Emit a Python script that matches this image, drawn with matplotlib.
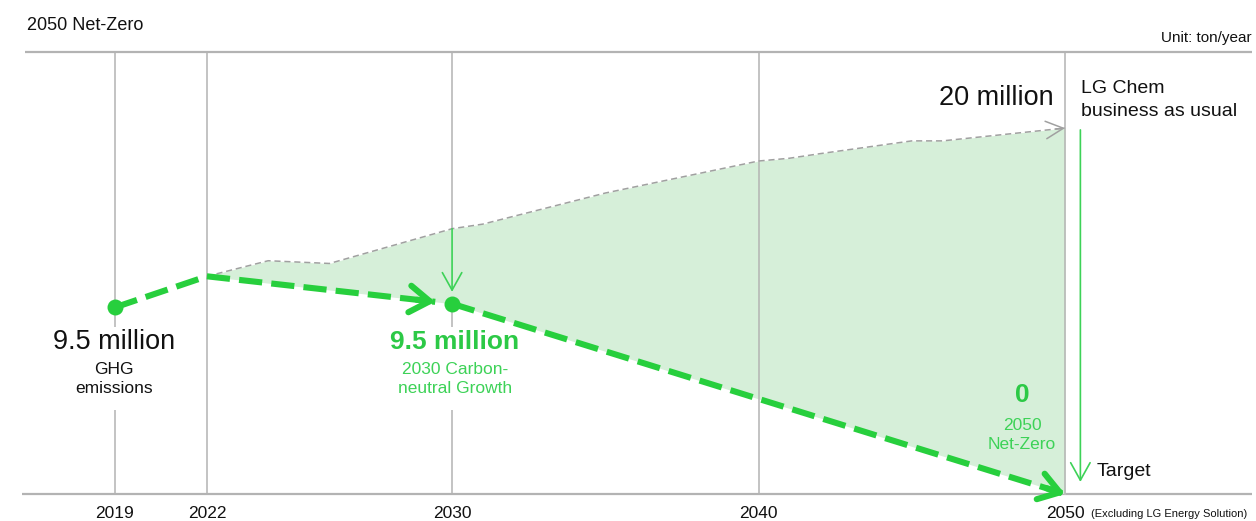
import matplotlib
matplotlib.use("Agg")
import matplotlib.pyplot as plt
import numpy as np

# ---------------- data (million t CO2eq / year, as drawn) ----------------
path_years = [2019, 2022, 2030, 2050]
path_values = [10.2, 11.9, 10.4, 0.0]

bau_years = [2022, 2024, 2026, 2030, 2031, 2035, 2040, 2041, 2042, 2045, 2046, 2050]
bau_values = [11.9, 12.75, 12.6, 14.5, 14.75, 16.45, 18.2, 18.35, 18.6, 19.3, 19.3, 20.0]

tick_years = [2019, 2022, 2030, 2040, 2050]
tick_labels = ["2019", "2022", "2030", "2040", "2050"]

# ---------------- style ----------------
GREEN = "#27cf3d"
GREEN_TXT = "#2cc946"
GREEN_LIGHT = "#3dd257"
FILL = "#d6efd9"
GRAY = "#b3b3b3"
GRAY_DARK = "#a0a0a0"
plt.rcParams["font.family"] = ["Liberation Sans", "DejaVu Sans"]

W, H = 1256, 521
fig = plt.figure(figsize=(W / 100, H / 100), dpi=100)
ax = fig.add_axes([0, 0, 1, 1])
ax.axis("off")
ax.set_xlim(2015.25, 2056.23)
ax.set_ylim(-1.475, 27.0)

TOP = 24.15


def fx(px):
    return px / W


def fy(py):
    return 1 - py / H


def ftext(px, py, s, **kw):
    fig.text(fx(px), fy(py), s, **kw)


# frame lines
ax.hlines(TOP, 2016.07, 2056.1, color=GRAY, lw=1.6, zorder=1)
ax.hlines(0, 2015.97, 2056.1, color=GRAY, lw=1.6, zorder=1)

# vertical year lines (with gaps for labels)
gap_hi, gap_lo = 9.13, 4.59
VZ = 2.5
for yr in tick_years:
    if yr in (2019, 2030):
        top_end = bau_values[bau_years.index(yr)] if yr == 2030 else gap_hi
        ax.vlines(yr, top_end, TOP, color=GRAY, lw=1.1, zorder=VZ)
        if yr == 2030:
            ax.vlines(yr, gap_hi, path_values[path_years.index(yr)], color=GRAY, lw=1.1, zorder=VZ)
        ax.vlines(yr, 0, gap_lo, color=GRAY, lw=1.1, zorder=VZ)
    else:
        ax.vlines(yr, 0, TOP, color=GRAY, lw=1.1, zorder=VZ)

# fill between BAU and pathway
path_on_bau = np.interp(bau_years, path_years, path_values)
ax.fill_between(bau_years, path_on_bau, bau_values, color=FILL, lw=0, zorder=2)

# BAU dashed line + arrow
ax.plot(bau_years, bau_values, color=GRAY_DARK, lw=1.1, ls=(0, (4, 2.5)), zorder=3)
ax.annotate("", xy=(bau_years[-1], bau_values[-1]), xytext=(bau_years[-1] - 0.3, bau_values[-1] - 0.05),
            arrowprops=dict(arrowstyle="->,head_length=0.9,head_width=0.45", color=GRAY_DARK, lw=1.1,
                            shrinkA=0, shrinkB=0, mutation_scale=14), zorder=3)

# pathway dashed line
dash = (0, (3.8, 1.5))
LW = 4.4
# 2019 -> 2022
ax.plot(path_years[0:2], path_values[0:2], color=GREEN, lw=LW, ls=dash, zorder=5)
# 2022 -> just before 2030
stop1 = path_years[2] - 0.55
v_stop1 = np.interp(stop1, path_years, path_values)
ax.plot([path_years[1], stop1], [path_values[1], v_stop1], color=GREEN, lw=LW, ls=dash, zorder=5)
ax.annotate("", xy=(stop1, v_stop1), xytext=(stop1 - 0.6, np.interp(stop1 - 0.6, path_years, path_values)),
            arrowprops=dict(arrowstyle="->,head_length=0.9,head_width=0.6", color=GREEN, lw=LW,
                            shrinkA=0, shrinkB=0, mutation_scale=16), zorder=5)
# 2030 -> 2050
ax.plot(path_years[2:4], path_values[2:4], color=GREEN, lw=LW, ls=dash, zorder=5)
ax.annotate("", xy=(path_years[3], path_values[3]),
            xytext=(path_years[3] - 0.6, np.interp(path_years[3] - 0.6, path_years, path_values)),
            arrowprops=dict(arrowstyle="->,head_length=0.9,head_width=0.6", color=GREEN, lw=LW,
                            shrinkA=0, shrinkB=0, mutation_scale=16), zorder=5)
# dots
ax.plot([path_years[0], path_years[2]], [path_values[0], path_values[2]], "o", color=GREEN,
        ms=11.5, mec="none", zorder=6)

# thin green arrows
ax.annotate("", xy=(2030, 11.05), xytext=(2030, bau_values[bau_years.index(2030)]),
            arrowprops=dict(arrowstyle="->,head_length=0.9,head_width=0.5", color=GREEN_LIGHT, lw=1.2,
                            shrinkA=0, shrinkB=0, mutation_scale=14), zorder=4)
ax.annotate("", xy=(2050.5, 0.66), xytext=(2050.5, 19.9),
            arrowprops=dict(arrowstyle="->,head_length=0.9,head_width=0.5", color=GREEN_LIGHT, lw=1.2,
                            shrinkA=0, shrinkB=0, mutation_scale=14), zorder=4)

# ---------------- texts ----------------
ftext(27, 25, "2050 Net-Zero", fontsize=13, ha="left", va="center", color="#111111")
ftext(1252, 38, "Unit: ton/year", fontsize=11, ha="right", va="center", color="#111111")
ftext(1054, 98, "20 million", fontsize=19.5, ha="right", va="center", color="#111111")
ftext(1081, 100, "LG Chem\nbusiness as usual", fontsize=14, ha="left", va="center",
      color="#111111", linespacing=1.45)

ftext(114, 342, "9.5 million", fontsize=19.5, ha="center", va="center", color="#111111")
ftext(114, 379, "GHG\nemissions", fontsize=12.5, ha="center", va="center", color="#111111",
      linespacing=1.28)

ftext(455, 342, "9.5 million", fontsize=19, ha="center", va="center", color=GREEN_TXT, fontweight="bold")
ftext(455, 379, "2030 Carbon-\nneutral Growth", fontsize=12.5, ha="center", va="center",
      color=GREEN_LIGHT, linespacing=1.28)

ftext(1022, 395, "0", fontsize=19, ha="center", va="center", color=GREEN_TXT, fontweight="bold")
ftext(1022, 435, "2050\nNet-Zero", fontsize=12.5, ha="center", va="center", color=GREEN_LIGHT,
      linespacing=1.35)

ftext(1097, 472, "Target", fontsize=14, ha="left", va="center", color="#111111")

for yr, lab in zip(tick_years, tick_labels):
    ax.text(yr, -1.04, lab, fontsize=12.5, ha="center", va="center", color="#111111")
ftext(1091, 514, "(Excluding LG Energy Solution)", fontsize=8, ha="left", va="center", color="#111111")

fig.savefig("out.png", dpi=100, facecolor="white")
